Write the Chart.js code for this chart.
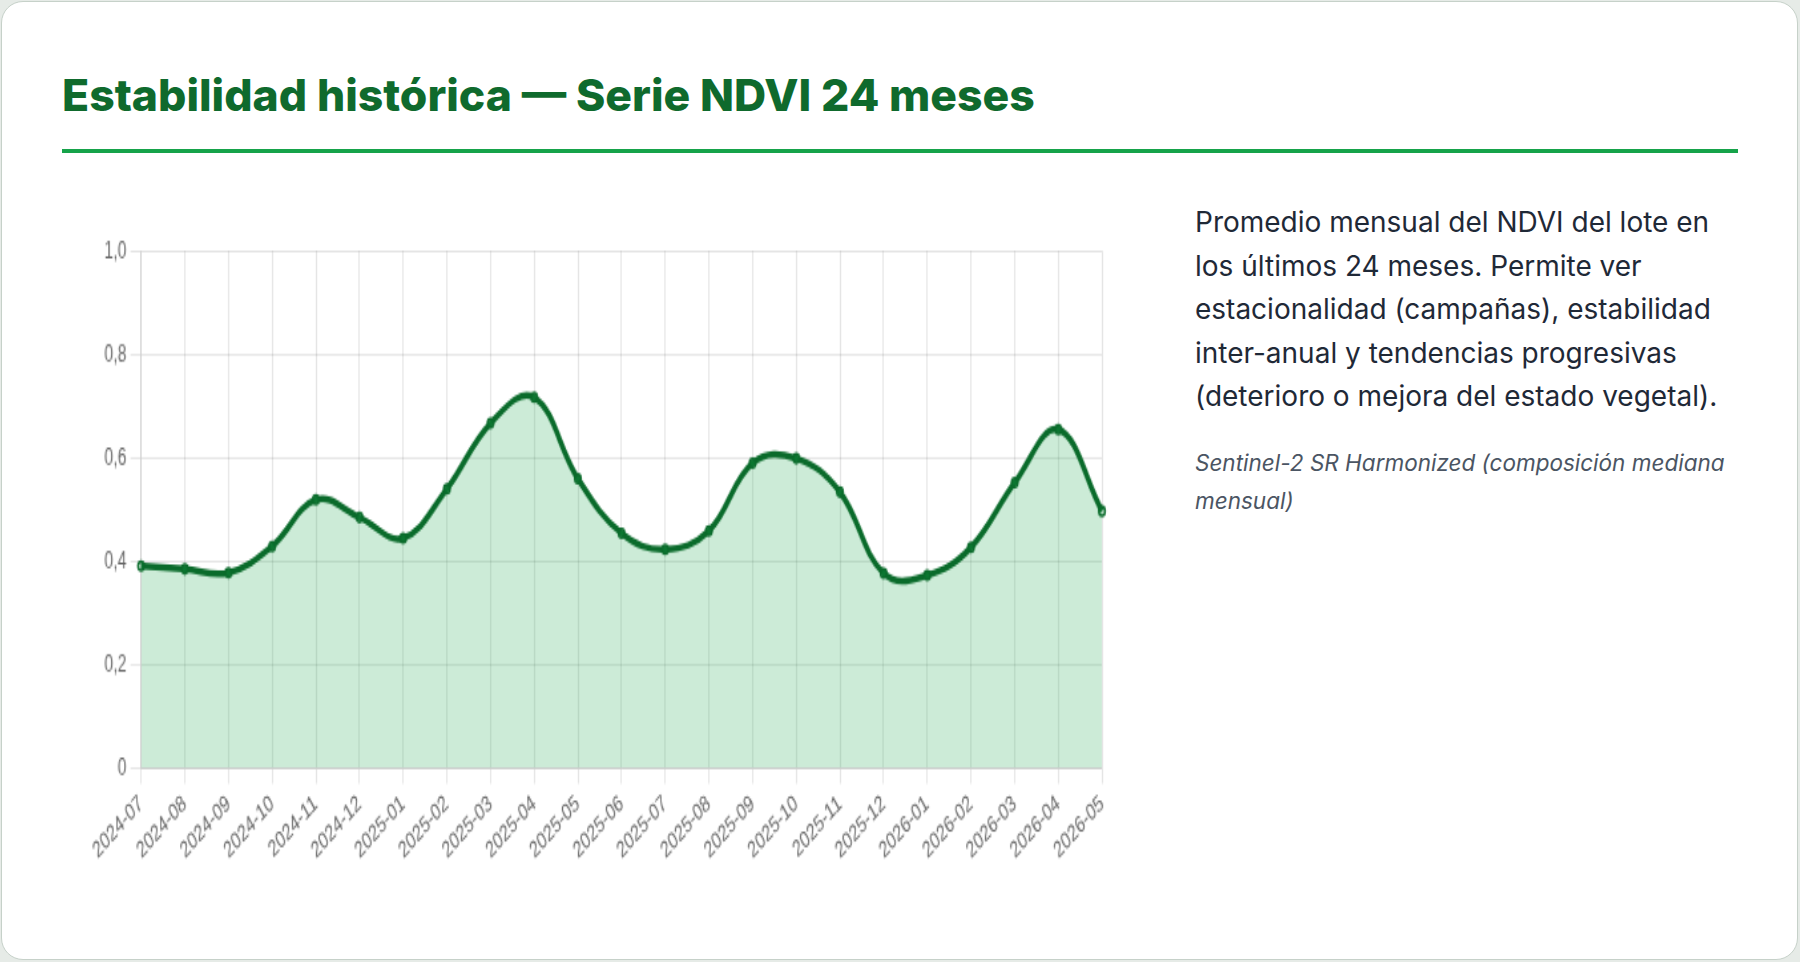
<!DOCTYPE html>
<html><head><meta charset="utf-8">
<script src="https://cdn.jsdelivr.net/npm/chart.js@4.4.0/dist/chart.umd.min.js"></script>
<style>
html,body{margin:0;padding:0;width:1800px;height:962px;background:#e6ebe7;overflow:hidden}
.card{position:absolute;left:1px;top:1px;width:1797px;height:959px;background:#fff;border:1.5px solid #c6d1c9;border-radius:22px;box-sizing:border-box}
h1{position:absolute;left:62px;top:73px;margin:0;font:800 44.5px/1 Inter, sans-serif;color:#0f6a2d;white-space:nowrap}
.rule{position:absolute;left:62px;top:149px;width:1676px;height:4px;background:#16a34a}
.desc{position:absolute;left:1195px;top:201px;font:400 28px/43.6px Inter, sans-serif;color:#1f2937;white-space:nowrap}
.src{position:absolute;left:1195px;top:444px;font:italic 400 22.5px/38px Inter, sans-serif;color:#4b5563;white-space:nowrap}
#wrap{position:absolute;left:91px;top:231px;width:772px;height:328px;transform:scale(1.33,1.95);transform-origin:0 0}
</style>
</head><body>
<div class="card"></div>
<h1>Estabilidad histórica — Serie NDVI 24 meses</h1>
<div class="rule"></div>
<div class="desc">Promedio mensual del NDVI del lote en<br>los últimos 24 meses. Permite ver<br>estacionalidad (campañas), estabilidad<br>inter-anual y tendencias progresivas<br>(deterioro o mejora del estado vegetal).</div>
<div class="src">Sentinel-2 SR Harmonized (composición mediana<br>mensual)</div>
<div id="wrap"><canvas id="c"></canvas></div>
<script>
const months = ['2024-07','2024-08','2024-09','2024-10','2024-11','2024-12','2025-01','2025-02','2025-03','2025-04','2025-05','2025-06','2025-07','2025-08','2025-09','2025-10','2025-11','2025-12','2026-01','2026-02','2026-03','2026-04','2026-05'];
const ndvi = [0.391,0.385,0.378,0.429,0.519,0.485,0.445,0.540,0.667,0.717,0.560,0.454,0.423,0.459,0.590,0.599,0.534,0.377,0.373,0.427,0.552,0.655,0.497];
const yTicks = [0,0.2,0.4,0.6,0.8,1.0];
const yTickLabels = ['0','0,2','0,4','0,6','0,8','1,0'];

Chart.defaults.font.family = "'Liberation Sans', Arial, sans-serif";
Chart.defaults.font.size = 12;
Chart.defaults.color = '#666';

new Chart(document.getElementById('c'), {
  type: 'line',
  data: {
    labels: months,
    datasets: [{
      data: ndvi,
      borderColor: '#0a6b2b',
      backgroundColor: 'rgba(22,163,74,0.22)',
      fill: 'origin',
      tension: 0.4,
      borderWidth: 3.5,
      pointRadius: 2.3,
      pointBorderWidth: 1.5,
      clip: false
    }]
  },
  options: {
    responsive: true,
    maintainAspectRatio: false,
    animation: false,
    plugins: { legend: { display: false }, tooltip: { enabled: false } },
    scales: {
      x: { ticks: { autoSkip: false, maxRotation: 50 } },
      y: {
        min: 0, max: 1,
        ticks: {
          stepSize: 0.2,
          callback: (v) => {
            const i = yTicks.findIndex(t => Math.abs(t - v) < 1e-6);
            return i >= 0 ? yTickLabels[i] : '';
          }
        }
      }
    }
  }
});
</script>
</body></html>
